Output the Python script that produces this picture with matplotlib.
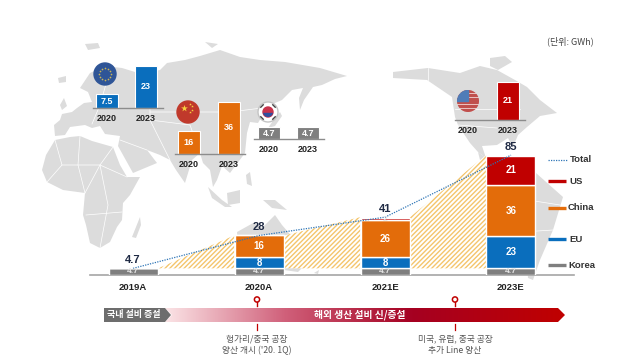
import numpy as np
import matplotlib
matplotlib.use('Agg')
import matplotlib.pyplot as plt
from matplotlib.patches import Polygon, Circle, Rectangle
from matplotlib.colors import LinearSegmentedColormap

W, H = 640, 357
LATIN = ['Liberation Sans', 'Noto Sans CJK KR']
KOREAN = ['Noto Sans CJK KR', 'DejaVu Sans']

# Main stacked chart
years = ['2019A', '2020A', '2021E', '2023E']
korea = [4.7, 4.7, 4.7, 4.7]
eu = [0, 8, 8, 23]
china = [0, 16, 26, 36]
us = [0, 0, 2, 21]
totals = [4.7, 28, 41, 85]
total_labels = ['4.7', '28', '41', '85']

# Small regional charts
mini_years = ['2020', '2023']
eu_mini = [7.5, 23]
china_mini = [16, 36]
korea_mini = [4.7, 4.7]
us_mini = [0, 21]

BLUE = '#0a6ebd'
ORANGE = '#e36c0a'
RED = '#c00000'
GREY = '#7f7f7f'
LAND = '#dcdcdc'

# World map outline, picture pixels
eurasia = [(54,125),(60,120),(62,114),(72,112),(77,108),(84,103),(92,102),(88,92),(80,88),(90,73),(105,66),(122,68),(135,72),
           (150,72),(160,70),(167,63),(185,60),(200,56),(220,50),(240,57),(260,60),(285,62),(320,68),(347,76),(335,79),
           (322,85),(313,87),(304,100),(300,110),(299,98),(303,88),(292,90),(282,100),(268,106),(258,123),(250,122),
           (247,133),(245,153),(230,173),(222,166),(217,180),(213,187),(210,170),(203,163),(200,153),(192,160),(185,183),
           (176,170),(170,160),(160,155),(147,150),(157,163),(133,173),(118,146),(120,136),(105,134),(100,126),(92,128),
           (85,125),(70,127),(65,135),(55,136)]
africa = [(42,170),(46,155),(55,140),(70,137),(80,136),(92,141),(113,147),(120,165),(127,177),(140,177),(130,195),(123,203),
          (122,220),(117,227),(110,242),(100,248),(90,243),(86,225),(83,215),(85,193),(63,190),(47,182)]
madagascar = [(140,217),(132,237),(136,238),(141,225)]
sumatra = [(208,187),(222,200),(232,207),(225,207),(212,198)]
borneo = [(227,193),(240,190),(240,203),(228,205)]
new_guinea = [(263,200),(275,200),(287,210),(272,208)]
philippines = [(246,175),(250,172),(252,186),(247,184)]
japan = [(268,128),(275,118),(280,112),(282,116),(275,126)]
uk = [(60,105),(64,98),(67,106),(62,110)]
iceland = [(58,78),(66,76),(66,82),(59,83)]
australia = [(237,232),(255,222),(262,228),(275,215),(282,225),(295,240),(308,262),(298,272),(270,268),(240,272)]
tasmania = [(314,273),(319,270),(318,274)]
n_america = [(393,72),(428,68),(460,73),(480,66),(497,70),(515,80),(527,87),(540,100),(557,113),(540,116),
             (527,127),(518,135),(513,147),(508,138),(497,145),(482,146),(486,158),(478,152),(470,143),(458,125),(455,117),
             (452,97),(427,80),(393,78)]
c_america = [(478,152),(486,158),(496,166),(490,168),(480,160)]
s_america = [(490,165),(512,165),(536,173),(563,197),(553,230),(540,260),(533,280),(528,278),(526,250),(515,215),(495,190)]
greenland = [(490,58),(505,56),(512,62),(498,70),(490,66)]
arctic = [(85,44),(98,43),(100,48),(88,50)]
arctic2 = [(205,42),(218,44),(212,48)]
land = [eurasia, africa, madagascar, sumatra, borneo, new_guinea, philippines, japan, uk, iceland,
        australia, tasmania, n_america, c_america, s_america, greenland, arctic, arctic2]
borders = [[(55,140),(62,165),(47,182)],[(80,136),(78,165),(85,193)],[(113,147),(100,165),(85,193)],
           [(62,165),(100,165),(127,177)],[(86,215),(122,212)],[(100,165),(108,205),(100,248)],
           [(92,124),(100,105),(110,70)],[(150,72),(150,120),(170,160)],[(150,112),(230,112),(262,108)],
           [(200,153),(190,125),(150,120)],[(428,68),(428,80)],[(455,109),(520,109)],[(458,125),(497,128)],
           [(120,140),(147,150)],[(528,200),(560,205)],[(522,232),(553,230)]]


def px_axes(x0, y0, x1, y1, zorder=2):
    a = fig.add_axes([x0 / W, 1 - y1 / H, (x1 - x0) / W, (y1 - y0) / H], zorder=zorder)
    a.patch.set_alpha(0)
    return a


def mini_chart(x0, x1, c0, c1, base, top, values, color, scale):
    step = c1 - c0
    a = px_axes(x0, top, x1, base)
    a.set_xlim((x0 - c0) / step, (x1 - c0) / step)
    a.set_ylim(0, (base - top) / scale)
    bars = a.bar([0, 1], values, width=22 / step, color=color, edgecolor='white', linewidth=0.8)
    for b, v in zip(bars, values):
        if v > 0:
            a.text(b.get_x() + b.get_width() / 2, v / 2, str(v), color='white', ha='center', va='center',
                   fontsize=6.5, fontweight='bold', family=LATIN)
    for s in ['top', 'left', 'right']:
        a.spines[s].set_visible(False)
    a.spines['bottom'].set_color('#8c8c8c')
    a.spines['bottom'].set_linewidth(1.0)
    a.set_yticks([])
    a.set_xticks([0, 1], mini_years, fontsize=6.5, fontweight='bold', family=LATIN, color='#222222')
    a.tick_params(axis='x', length=0, pad=4)
    return a


fig = plt.figure(figsize=(W / 100, H / 100), dpi=100)

# Background layer in pixels: map
bg = fig.add_axes([0, 0, 1, 1], zorder=1)
bg.set_xlim(0, W)
bg.set_ylim(H, 0)
bg.axis('off')
for shape in land:
    bg.add_patch(Polygon(shape, closed=True, facecolor=LAND, edgecolor='none', zorder=1))
for b in borders:
    bg.plot(*zip(*b), color='white', lw=0.5, zorder=2)

# Main chart
ax = px_axes(90, 140, 574, 275)
x = np.arange(len(years))
step = 126
width = 49 / step
ax.set_xlim((90 - 133) / step, (574 - 133) / step)
ax.set_ylim(0, 135 / 1.41)

# Hatched wedges between the bars
for i in range(len(years) - 1):
    xs = [x[i] + width / 2 + 0.003, x[i + 1] - width / 2 - 0.003]
    ax.fill_between(xs, [korea[i]] * 2, [totals[i], totals[i + 1]], facecolor='white',
                    edgecolor='#f4c56c', hatch='///////', linewidth=0, zorder=1)

bottom = np.zeros(len(years))
for vals, col in zip([korea, eu, china, us], [GREY, BLUE, ORANGE, RED]):
    vals = np.array(vals, dtype=float)
    ax.bar(x, vals, width=width, bottom=bottom, color=col, edgecolor='white', linewidth=1.0, zorder=3)
    for xi, b, v in zip(x, bottom, vals):
        if v > 0:
            small = v < 5
            ax.text(xi, b + v / 2, f'{v:g}', ha='center', va='center', fontweight='bold', family=LATIN,
                    fontsize=6 if small else 7, color='#e8e8e8' if small else 'white', zorder=5)
    bottom += vals

ax.plot(x, totals, color='#2e75b6', ls=(0, (1, 1)), lw=0.9, zorder=4, label='Total')
for xi, t, s in zip(x, totals, total_labels):
    ax.text(xi, t + 2.5, s, ha='center', va='bottom', fontsize=8, fontweight='bold', color='#1f2a44', family=LATIN, zorder=5)

for s in ['top', 'left', 'right']:
    ax.spines[s].set_visible(False)
ax.spines['bottom'].set_color('#a6a6a6')
ax.spines['bottom'].set_linewidth(1.2)
ax.set_yticks([])
ax.set_xticks(x, years, fontsize=6.8, fontweight='bold', family=LATIN, color='#222222')
ax.tick_params(axis='x', length=0, pad=6)

# Regional mini charts
mini_chart(93, 163, 107, 146, 108, 60, eu_mini, BLUE, 1.83)
mini_chart(175, 245, 189, 229, 154, 98, china_mini, ORANGE, 1.45)
mini_chart(254, 324, 269, 308, 139, 120, korea_mini, GREY, 2.55)
mini_chart(455, 525, 468, 508, 120, 78, us_mini, RED, 1.81)

# Flags
fl = fig.add_axes([0, 0, 1, 1], zorder=3)
fl.set_xlim(0, W)
fl.set_ylim(H, 0)
fl.axis('off')
fl.patch.set_alpha(0)

fl.add_patch(Circle((105, 74), 11, color='#2f5597'))
ang = np.linspace(0, 2 * np.pi, 12, endpoint=False)
fl.scatter(105 + 6 * np.cos(ang), 74 + 6 * np.sin(ang), s=1.5, color='#c9b458', linewidths=0)

fl.add_patch(Circle((188, 112), 11, color='#c0392b'))
fl.scatter([184], [108], marker='*', s=26, color='#f7d23e', linewidths=0)
fl.scatter([190, 192, 192, 190], [104, 106, 110, 112], marker='*', s=4, color='#f7d23e', linewidths=0)

fl.add_patch(Circle((268, 112), 10, facecolor='white', edgecolor='#c4c4c4', lw=1.0))
taiji = Circle((268, 112), 5, color='#c8324b')
fl.add_patch(taiji)
low = Rectangle((262, 112.5), 12, 5, color='#2f4f9e')
fl.add_patch(low)
low.set_clip_path(taiji)
for dx, dy in [(-6, -6), (6, -6), (-6, 6), (6, 6)]:
    fl.plot([268 + dx - 1.2, 268 + dx + 1.2], [112 + dy + 1.2 * np.sign(dx * dy), 112 + dy - 1.2 * np.sign(dx * dy)],
            color='#444444', lw=1.0)

us_circle = Circle((468, 101), 11, facecolor='white', edgecolor='none')
fl.add_patch(us_circle)
for k in range(6):
    r = Rectangle((456, 90 + k * 3.8), 24, 1.9, color='#c0504d')
    fl.add_patch(r)
    r.set_clip_path(us_circle)
canton = Rectangle((456, 90), 12, 11, color='#4f7cb8')
fl.add_patch(canton)
canton.set_clip_path(us_circle)

# Legend rows
leg_rows = [('Total', 160, 570), ('US', 181, 569), ('China', 208, 568), ('EU', 239, 569), ('Korea', 265, 568)]
leg_cols = ['#2e75b6', RED, ORANGE, BLUE, GREY]
for (name, ly, tx), col in zip(leg_rows, leg_cols):
    if name == 'Total':
        fl.plot([548, 567], [ly, ly], color=col, ls=(0, (1, 1)), lw=0.9)
    else:
        fl.plot([548, 566], [ly, ly], color=col, lw=2.4, solid_capstyle='butt')
    fl.text(tx, ly, name, fontsize=6.8, fontweight='bold', color='#333333', va='center', family=LATIN)

fl.text(594, 41, '(단위: GWh)', fontsize=6.5, color='#444444', ha='right', va='center', family=KOREAN)

# Timeline arrow
cmap = LinearSegmentedColormap.from_list('tl', [(0, '#fbe4e6'), (0.3, '#d0607a'), (0.62, '#a50021'), (1, '#c00000')])
arrow = Polygon([(165, 308), (558, 308), (565, 315), (558, 322), (165, 322), (172, 315)], closed=True,
                facecolor='none', edgecolor='none')
fl.add_patch(arrow)
im = fl.imshow(np.linspace(0, 1, 256).reshape(1, -1), cmap=cmap, extent=(165, 565, 322, 308), aspect='auto', zorder=1)
im.set_clip_path(arrow)
fl.set_xlim(0, W)
fl.set_ylim(H, 0)
fl.add_patch(Polygon([(104, 308), (165, 308), (171, 315), (165, 322), (104, 322)], closed=True, facecolor='#6d6d6d',
                     edgecolor='none', zorder=2))
fl.text(134, 315, '국내 설비 증설', color='white', fontsize=6.5, fontweight='bold', ha='center', va='center', family=KOREAN, zorder=3)
fl.text(360, 315, '해외 생산 설비 신/증설', color='white', fontsize=7, fontweight='bold', ha='center', va='center', family=KOREAN, zorder=3)

# Milestones
for mx in [257, 455]:
    fl.plot([mx, mx], [302, 306], color='#c00000', lw=1.0)
    fl.add_patch(Circle((mx, 299.5), 2.6, facecolor='white', edgecolor='#c00000', lw=1.1))
    fl.plot([mx, mx], [324, 330], color='#c00000', lw=0.9)
fl.text(257, 339, '헝가리/중국 공장', fontsize=6.3, color='#555555', ha='center', va='center', family=KOREAN)
fl.text(257, 351, "양산 개시 ('20. 1Q)", fontsize=6.3, color='#555555', ha='center', va='center', family=KOREAN)
fl.text(455, 339, '미국, 유럽, 중국 공장', fontsize=6.3, color='#555555', ha='center', va='center', family=KOREAN)
fl.text(455, 351, '추가 Line 양산', fontsize=6.3, color='#555555', ha='center', va='center', family=KOREAN)

fig.savefig('out.png', dpi=100)
